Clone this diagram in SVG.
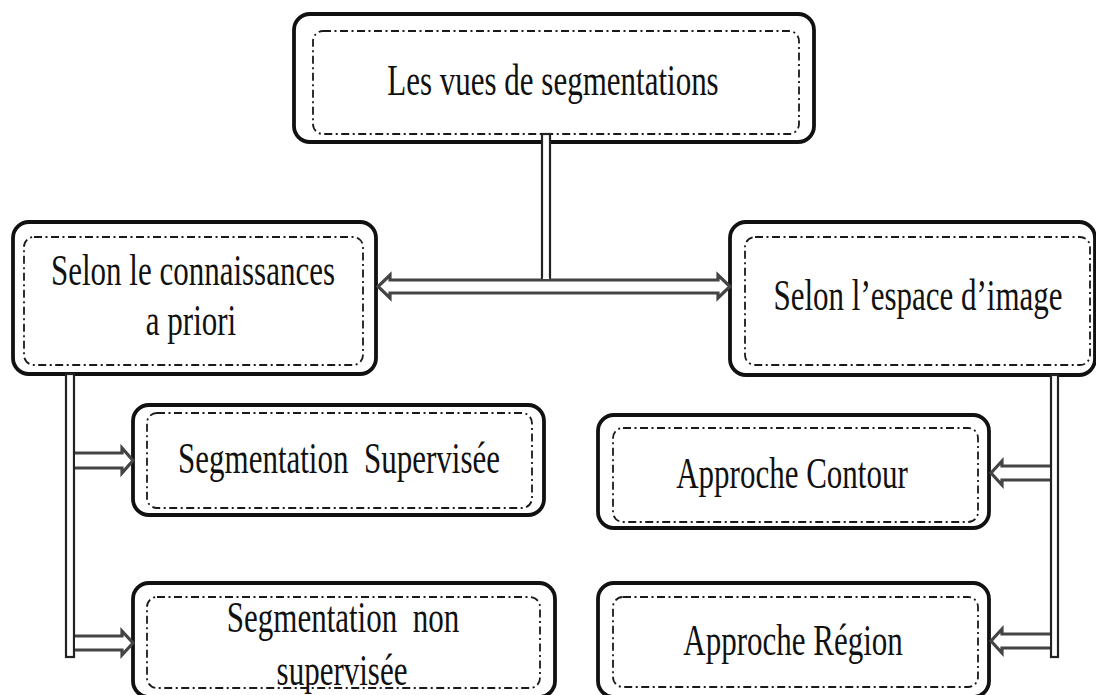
<svg xmlns="http://www.w3.org/2000/svg" width="1096" height="695" viewBox="0 0 1096 695">
  <style>
    .outer { fill: #fff; stroke: #111; stroke-width: 3.8; }
    .inner { fill: none; stroke: #1a1a1a; stroke-width: 1.8; stroke-dasharray: 8 3.5 2 3.5; }
    .label { font-family: "Liberation Serif", "Times New Roman", serif; font-size: 31px; fill: #111; text-anchor: middle; white-space: pre; }
    .rail { fill: #fff; stroke: #222; stroke-width: 2.2; }
    .arrow { fill: #fff; stroke: #444; stroke-width: 3.2; stroke-linejoin: miter; }
  </style>

  <rect width="1096" height="695" fill="#fff"/>

  <!-- root -->
  <g id="vues">
    <rect class="outer" x="294" y="14" width="520" height="128" rx="16"/>
    <rect class="inner" x="313" y="31" width="486" height="103" rx="10"/>
    <text class="label" transform="translate(553,95) scale(1,1.42)">Les vues de segmentations</text>
  </g>

  <!-- first level -->
  <g id="connaissances">
    <rect class="outer" x="13" y="222" width="363" height="152" rx="16"/>
    <rect class="inner" x="24" y="237" width="339" height="128" rx="10"/>
    <text class="label" transform="translate(193,285) scale(1,1.42)">Selon le connaissances</text>
    <text class="label" transform="translate(191,335) scale(1,1.42)">a priori</text>
  </g>

  <g id="espace">
    <rect class="outer" x="730" y="222" width="365" height="153" rx="16"/>
    <rect class="inner" x="745" y="237" width="345" height="128" rx="10"/>
    <text class="label" transform="translate(918,310) scale(1,1.42)">Selon l’espace d’image</text>
  </g>

  <!-- second level, left -->
  <g id="supervisee">
    <rect class="outer" x="133" y="405" width="411" height="110" rx="16"/>
    <rect class="inner" x="147" y="413" width="385" height="95" rx="10"/>
    <text class="label" xml:space="preserve" transform="translate(339,473) scale(1,1.42)">Segmentation  Supervisée</text>
  </g>

  <g id="non-supervisee">
    <rect class="outer" x="133" y="583" width="422" height="114" rx="16"/>
    <rect class="inner" x="147" y="597" width="393" height="91" rx="10"/>
    <text class="label" xml:space="preserve" transform="translate(343,632) scale(1,1.42)">Segmentation  non</text>
    <text class="label" transform="translate(342,685) scale(1,1.42)">supervisée</text>
  </g>

  <!-- second level, right -->
  <g id="contour">
    <rect class="outer" x="598" y="415" width="391" height="113" rx="16"/>
    <rect class="inner" x="613" y="428" width="365" height="94" rx="10"/>
    <text class="label" transform="translate(792,488) scale(1,1.42)">Approche Contour</text>
  </g>

  <g id="region">
    <rect class="outer" x="598" y="583" width="391" height="114" rx="16"/>
    <rect class="inner" x="613" y="597" width="365" height="90" rx="10"/>
    <text class="label" transform="translate(793,655) scale(1,1.42)">Approche Région</text>
  </g>

  <!-- connectors -->
  <g id="connectors">
    <!-- stem from the root down to the two-way arrow -->
    <rect class="rail" x="542" y="134" width="8" height="146"/>
    <!-- two-way arrow between first-level nodes -->
    <path class="arrow" d="M390 280 H718 V275 L730 286.5 L718 298 V293 H390 V298 L378 286.5 L390 275 Z"/>
    <rect x="543" y="277" width="6" height="2" fill="#fff"/>

    <!-- left rail and its branches -->
    <rect class="rail" x="66" y="374" width="8" height="283"/>
    <path class="arrow" d="M75 453 H122 V448 L133 460.5 L122 473 V468 H75"/>
    <path class="arrow" d="M75 636 H122 V631 L133 643 L122 655 V650 H75"/>

    <!-- right rail and its branches -->
    <rect class="rail" x="1051" y="375" width="7" height="282"/>
    <path class="arrow" d="M1050 466 H1002 V461 L991 473 L1002 485 V480 H1050"/>
    <path class="arrow" d="M1050 634 H1002 V629 L991 641 L1002 653 V648 H1050"/>
  </g>
</svg>
